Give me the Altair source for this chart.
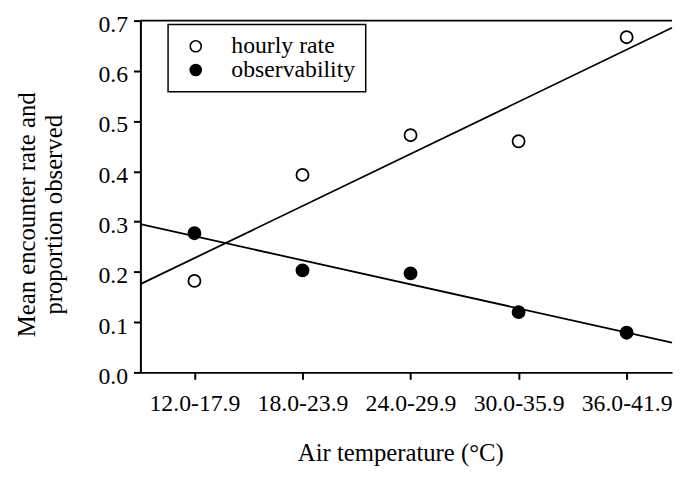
import altair as alt
import pandas as pd

categories = ["12.0-17.9", "18.0-23.9", "24.0-29.9", "30.0-35.9", "36.0-41.9"]
hourly_rate = [0.182, 0.393, 0.472, 0.460, 0.667]
observability = [0.277, 0.203, 0.197, 0.120, 0.079]
series_names = ["hourly rate", "observability"]
y_ticks = [0.0, 0.1, 0.2, 0.3, 0.4, 0.5, 0.6, 0.7]
x_ticks = [1, 2, 3, 4, 5]

rows = []
for i, c in enumerate(categories):
    rows.append({"idx": i + 1, "cat": c, "series": series_names[0], "value": hourly_rate[i]})
    rows.append({"idx": i + 1, "cat": c, "series": series_names[1], "value": observability[i]})
df = pd.DataFrame(rows)

FONT = "Liberation Serif"
W, H = 538, 356
x_dom = [0.5, 5.42]
label_expr = "[" + ",".join("'%s'" % c for c in categories) + "][datum.value - 1]"

x_scale = alt.Scale(domain=x_dom, nice=False, zero=False)
y_scale = alt.Scale(domain=[0, 0.7], nice=False, zero=True)

x_enc = alt.X(
    "idx:Q",
    scale=x_scale,
    axis=alt.Axis(
        values=x_ticks,
        labelExpr=label_expr,
        title="Air temperature (°C)",
        labelPadding=13,
        titleX=263,
        titleY=89,
        titleBaseline="alphabetic",
    ),
)
y_enc = alt.Y(
    "value:Q",
    scale=y_scale,
    axis=alt.Axis(
        values=y_ticks,
        format=".1f",
        title=["Mean encounter rate and", "proportion observed"],
        labelPadding=6,
        labelOffset=4,
        titleX=-107,
        titleY=196,
        titleBaseline="alphabetic",
        titleLineHeight=27,
    ),
)

base = alt.Chart(df)

lines = base.transform_regression(
    "idx", "value", groupby=["series"], extent=x_dom
).mark_line(color="black", strokeWidth=1.8).encode(
    x=alt.X("idx:Q", scale=x_scale),
    y=alt.Y("value:Q", scale=y_scale),
    detail="series:N",
)

points = base.mark_point(
    shape="circle", filled=True, size=150, strokeWidth=1.8, opacity=1
).encode(
    x=x_enc,
    y=y_enc,
    fill=alt.Fill(
        "series:N",
        scale=alt.Scale(domain=series_names, range=["white", "black"]),
        legend=alt.Legend(
            title=None,
            orient="none",
            legendX=28,
            legendY=4,
            strokeColor="black",
            padding=10,
            rowPadding=0,
            symbolType="circle",
            symbolSize=125,
            symbolStrokeColor="black",
            symbolStrokeWidth=1.6,
            symbolOffset=6,
            labelOffset=24,
            labelFont=FONT,
            labelFontSize=24,
            labelColor="black",
        ),
    ),
    stroke=alt.value("black"),
)

top_rule = alt.Chart(pd.DataFrame({"v": [0.7]})).mark_rule(
    color="black", strokeWidth=2
).encode(
    y=alt.Y("v:Q", scale=y_scale),
    x=alt.value(0),
    x2=alt.value(W),
)

chart = alt.layer(top_rule, lines, points).properties(
    width=W,
    height=H,
    autosize=alt.AutoSizeParams(type="none"),
    padding={"left": 134, "top": 10, "right": 2, "bottom": 95},
).configure_view(stroke=None).configure_axis(
    grid=False,
    domainColor="black",
    domainWidth=2,
    tickColor="black",
    tickWidth=2,
    tickSize=7,
    labelFont=FONT,
    labelFontSize=24,
    labelColor="black",
    titleFont=FONT,
    titleFontSize=25,
    titleFontWeight="normal",
    titleColor="black",
).configure_legend(strokeWidth=1.5)

chart.save("out.html", embed_options={"renderer": "svg", "actions": False})
